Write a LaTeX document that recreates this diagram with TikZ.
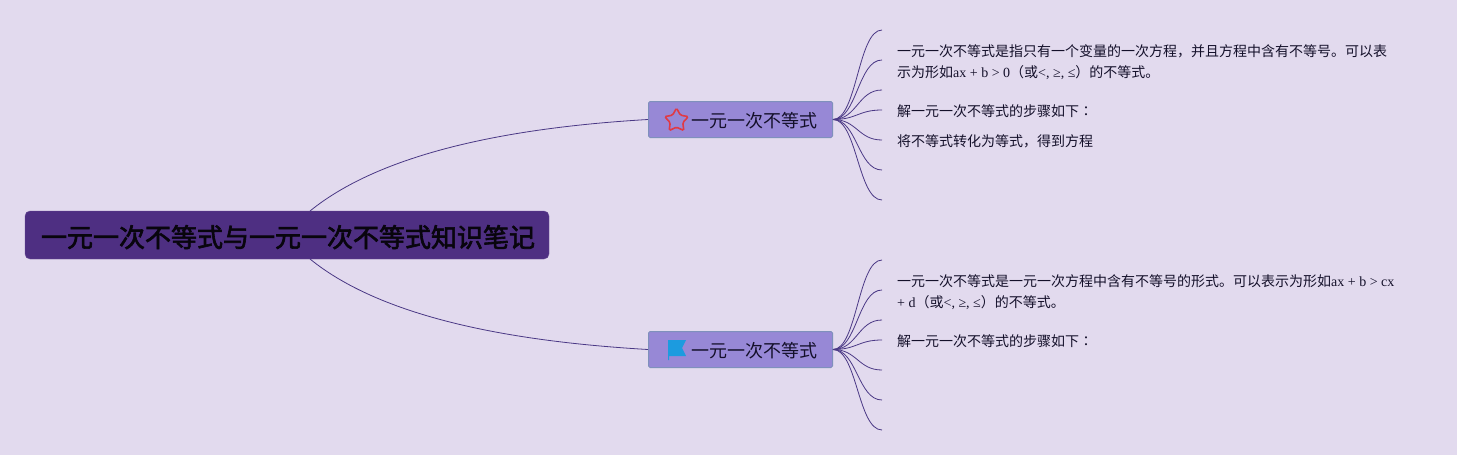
\documentclass[tikz,border=0pt]{standalone}
\usepackage{fontspec}
\setmainfont{Noto Sans CJK SC}
\newfontfamily\latinfont{Liberation Serif}
\newfontfamily\colonfont{Noto Sans CJK TC}
\newfontfamily\rootfont[FakeBold=2.4]{Noto Sans CJK SC}
\usetikzlibrary{shapes.geometric}
\definecolor{paper}{HTML}{E2DAEE}
\definecolor{rootfill}{HTML}{4E2F82}
\definecolor{branchfill}{HTML}{9788D6}
\definecolor{branchline}{HTML}{7F90BC}
\definecolor{linkcolor}{HTML}{4A3885}
\definecolor{inkcolor}{HTML}{14102A}
\definecolor{starred}{HTML}{E03A45}
\definecolor{flagblue}{HTML}{1C9BDF}
\tikzstyle{rootbox}=[
        fill=rootfill,
        draw=rootfill!85!white,
        rounded corners=5pt,
        minimum width=524pt,
        minimum height=48pt,
        inner sep=0pt,
        text height=24pt,
        text depth=0pt,
        text=black!90!rootfill,
        font=\fontsize{26}{30}\rootfont
]
\tikzstyle{branchbox}=[
        fill=branchfill,
        draw=branchline,
        line width=1pt,
        rounded corners=1.5pt,
        minimum width=184pt,
        minimum height=36pt,
        inner sep=0pt,
        text height=16.5pt,
        text depth=0pt,
        text=inkcolor,
        font=\fontsize{18}{22}\selectfont
]
\tikzstyle{leaftext}=[
        anchor=west,
        align=left,
        inner sep=0pt,
        text=inkcolor,
        font=\fontsize{14}{21}\selectfont
]
\tikzstyle{link}=[
        draw=linkcolor,
        line width=0.8pt
]
\begin{document}
\begin{tikzpicture}[x=1pt,y=-1pt]
                        \useasboundingbox (0,0) rectangle (1457,455);
                        \fill[paper] (0,0) rectangle (1457,455);

                        \node[rootbox] (root) at (287,235) {\hspace{2pt}一元一次不等式与一元一次不等式知识笔记};
                        \node[branchbox] (branchA) at (740.5,119.5) {\hspace{27pt}一元一次不等式};
                        \node[branchbox] (branchB) at (740.5,349.5) {\hspace{27pt}一元一次不等式};

                        \coordinate (rootup) at (310,211);
                        \coordinate (rootdown) at (310,259);
                        \draw[link] (rootup) .. controls (385,150) and (520,127) .. (branchA.west);
                        \draw[link] (rootdown) .. controls (385,320) and (520,342) .. (branchB.west);

                        \foreach \b/\d in {A/0,B/230} {
                            \foreach \i/\y in {1/30,2/60,3/90,4/110,5/140,6/170,7/200} {
                                \coordinate (end\b\i) at (882,\y+\d);
                                \draw[link] (branch\b.east) .. controls +(24,0) and +(-24,0) .. (end\b\i);
                            }
                        }

                        \node[leaftext] (noteA) at (897,62) {一元一次不等式是指只有一个变量的一次方程，并且方程中含有不等号。可以表\\示为形如{\latinfont ax + b > 0}（或{\latinfont <, ≥, ≤}）的不等式。};
                        \node[leaftext] (stepsA) at (897,111.5) {解一元一次不等式的步骤如下{\colonfont ：}};
                        \node[leaftext] (firstA) at (897,141.5) {将不等式转化为等式，得到方程};
                        \node[leaftext] (noteB) at (897,292) {一元一次不等式是一元一次方程中含有不等号的形式。可以表示为形如{\latinfont ax + b > cx}\\{\latinfont + d}（或{\latinfont <, ≥, ≤}）的不等式。};
                        \node[leaftext] (stepsB) at (897,341.5) {解一元一次不等式的步骤如下{\colonfont ：}};

                        \node[star,star points=5,star point ratio=1.9,draw=starred,line width=1.6pt,
                            rounded corners=1.5pt,minimum size=25pt,inner sep=0pt] (starA) at (676.5,120.5) {};
                        \fill[flagblue] (668,340) -- (686,340) -- (682,348) -- (686,356) -- (669,356) -- (669,360) -- (668,360) -- cycle;
                    \end{tikzpicture}
\end{document}
